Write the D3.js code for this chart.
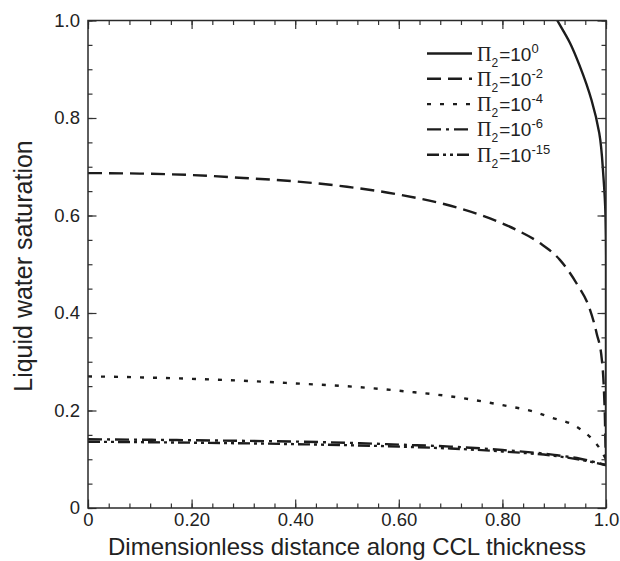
<!DOCTYPE html>
<html>
<head>
<meta charset="utf-8">
<script src="https://cdn.jsdelivr.net/npm/d3@7"></script>
<style>
  html, body { margin: 0; padding: 0; background: #fff; }
  svg { display: block; }
  text { font-family: "Liberation Sans", Arial, sans-serif; fill: #222; }
</style>
</head>
<body>
<svg id="chart" width="620" height="561"></svg>
<script>
// Liquid water saturation profiles across the cathode catalyst layer (CCL)
// Pi2 = 10^0 is steep near the membrane side, listed by rising saturation
const xPi0   = [1.0, 1.0, 1.0, 0.999, 0.995, 0.987, 0.972, 0.95, 0.93, 0.906, 0.89];
const sPi0   = [0.088, 0.3, 0.5, 0.60, 0.68, 0.769, 0.837, 0.905, 0.955, 1.0, 1.03];

const xPi2   = [0, 0.1, 0.2, 0.3, 0.4, 0.5, 0.6, 0.7, 0.776, 0.828, 0.873, 0.911, 0.943, 0.968, 0.982, 0.992, 0.996, 0.998, 0.999, 1.0];
const sPi2   = [0.687, 0.686, 0.683, 0.677, 0.670, 0.659, 0.643, 0.620, 0.594, 0.570, 0.543, 0.509, 0.461, 0.410, 0.358, 0.304, 0.242, 0.18, 0.13, 0.095];

const xPi4   = [0, 0.1, 0.2, 0.3, 0.41, 0.51, 0.615, 0.7, 0.81, 0.86, 0.89, 0.943, 0.969, 0.988, 1.0];
const sPi4   = [0.270, 0.268, 0.265, 0.261, 0.255, 0.249, 0.239, 0.229, 0.209, 0.198, 0.187, 0.167, 0.146, 0.122, 0.100];

const xPi6   = [0, 0.2, 0.41, 0.525, 0.6, 0.7, 0.8, 0.9, 0.95, 1.0];
const sPi6   = [0.141, 0.139, 0.136, 0.133, 0.130, 0.126, 0.119, 0.109, 0.101, 0.088];

const xPi15  = [0, 0.2, 0.4, 0.6, 0.7, 0.8, 0.9, 0.95, 1.0];
const sPi15  = [0.136, 0.134, 0.131, 0.126, 0.122, 0.116, 0.107, 0.099, 0.088];

const seriesExp  = ["0", "-2", "-4", "-6", "-15"];
const seriesDash = [null, "14,7", "4,9", "14,5,3,5", "12,4,3,4,3,4"];

const xTickVals   = [0, 0.2, 0.4, 0.6, 0.8, 1.0];
const xTickLabels = ["0", "0.20", "0.40", "0.60", "0.80", "1.0"];
const yTickVals   = [0, 0.2, 0.4, 0.6, 0.8, 1.0];
const yTickLabels = ["0", "0.2", "0.4", "0.6", "0.8", "1.0"];

const xLabel = "Dimensionless distance along CCL thickness";
const yLabel = "Liquid water saturation";

const svg = d3.select("#chart");
const L = 88, R = 606, T = 20.5, B = 508;

const x = d3.scaleLinear().domain([0, 1]).range([L, R]);
const y = d3.scaleLinear().domain([0, 1]).range([B, T]);

const ink = "#1c1c1c";

svg.append("defs").append("clipPath").attr("id", "plotClip")
  .append("rect").attr("x", L).attr("y", T).attr("width", R - L).attr("height", B - T);

// curves
const xs = [xPi0, xPi2, xPi4, xPi6, xPi15];
const ys = [sPi0, sPi2, sPi4, sPi6, sPi15];
const curves = svg.append("g").attr("clip-path", "url(#plotClip)");
xs.forEach((xv, i) => {
  const pts = xv.map((d, j) => [d, ys[i][j]]);
  const line = d3.line()
    .x(d => x(d[0])).y(d => y(d[1]))
    .curve(i === 0 ? d3.curveMonotoneY : d3.curveMonotoneX);
  curves.append("path")
    .attr("d", line(pts))
    .attr("fill", "none")
    .attr("stroke", ink)
    .attr("stroke-width", 2.4)
    .attr("stroke-dasharray", seriesDash[i]);
});

// axes, ticks pointing inward on all four sides
function styleAxis(g) {
  g.select(".domain").remove();
  g.selectAll(".tick line").attr("stroke", "#333").attr("stroke-width", 1.2);
  g.selectAll(".tick text").style("font-size", "18.5px").attr("fill", "#222")
    .style("font-family", '"Liberation Sans", Arial, sans-serif');
}
const xMinor = d3.range(0, 1.0001, 0.04);
const yMinor = d3.range(0, 1.0001, 0.05);

svg.append("g").attr("transform", `translate(0,${B})`)
  .call(d3.axisBottom(x).tickValues(xMinor).tickSize(-4.5).tickFormat(""))
  .call(styleAxis);
svg.append("g").attr("transform", `translate(0,${B})`)
  .call(d3.axisBottom(x).tickValues(xTickVals).tickSize(-8.5).tickPadding(5)
    .tickFormat((d, i) => xTickLabels[i]))
  .call(styleAxis);
svg.append("g").attr("transform", `translate(0,${T})`)
  .call(d3.axisTop(x).tickValues(xMinor).tickSize(-4.5).tickFormat(""))
  .call(styleAxis);
svg.append("g").attr("transform", `translate(0,${T})`)
  .call(d3.axisTop(x).tickValues(xTickVals).tickSize(-8.5).tickFormat(""))
  .call(styleAxis);

svg.append("g").attr("transform", `translate(${L},0)`)
  .call(d3.axisLeft(y).tickValues(yMinor).tickSize(-4.5).tickFormat(""))
  .call(styleAxis);
svg.append("g").attr("transform", `translate(${L},0)`)
  .call(d3.axisLeft(y).tickValues(yTickVals).tickSize(-8.5).tickPadding(8)
    .tickFormat((d, i) => yTickLabels[i]))
  .call(styleAxis);
svg.append("g").attr("transform", `translate(${R},0)`)
  .call(d3.axisRight(y).tickValues(yMinor).tickSize(-4.5).tickFormat(""))
  .call(styleAxis);
svg.append("g").attr("transform", `translate(${R},0)`)
  .call(d3.axisRight(y).tickValues(yTickVals).tickSize(-8.5).tickFormat(""))
  .call(styleAxis);

// frame
svg.append("rect")
  .attr("x", L).attr("y", T).attr("width", R - L).attr("height", B - T)
  .attr("fill", "none").attr("stroke", "#2a2a2a").attr("stroke-width", 1.5);

// axis titles
svg.append("text")
  .attr("x", (L + R) / 2).attr("y", 555)
  .attr("text-anchor", "middle")
  .style("font-size", "24px")
  .text(xLabel);
svg.append("text")
  .attr("transform", `translate(32,266) rotate(-90)`)
  .attr("text-anchor", "middle")
  .style("font-size", "25px")
  .text(yLabel);

// legend
const legend = svg.append("g");
seriesExp.forEach((e, i) => {
  const ly = 53.5 + i * 25.3;
  legend.append("line")
    .attr("x1", 427).attr("x2", 472).attr("y1", ly).attr("y2", ly)
    .attr("stroke", ink).attr("stroke-width", 2.4)
    .attr("stroke-dasharray", seriesDash[i]);
  const t = legend.append("text").attr("x", 477).attr("y", ly + 7).style("font-size", "19px");
  t.append("tspan").style("font-family", '"Liberation Serif", "Times New Roman", serif')
    .style("font-size", "20px").text("Π");
  t.append("tspan").attr("dy", 6).style("font-size", "12px").text("2");
  t.append("tspan").attr("dy", -6).attr("dx", 1).text("=10");
  t.append("tspan").attr("dy", -8).style("font-size", "13px").text(e);
});
</script>
</body>
</html>
